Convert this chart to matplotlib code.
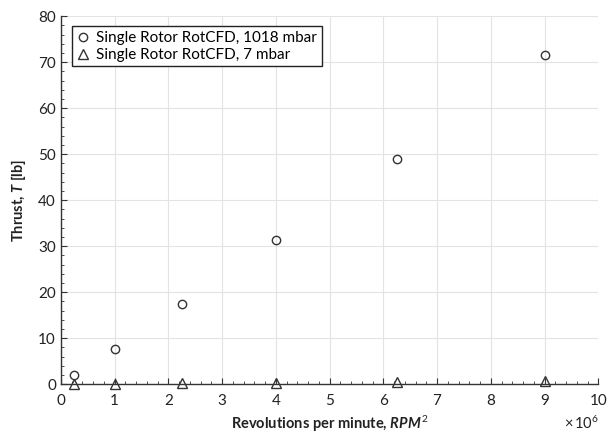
import matplotlib
matplotlib.use("Agg")
import matplotlib.pyplot as plt
from matplotlib.ticker import AutoMinorLocator, MultipleLocator, FuncFormatter

rpm2 = [0.25e6, 1.0e6, 2.25e6, 4.0e6, 6.25e6, 9.0e6]
thrust_1018 = [2.0, 7.7, 17.4, 31.3, 49.0, 71.5]
thrust_7 = [0.03, 0.1, 0.18, 0.3, 0.42, 0.58]
labels = ["Single Rotor RotCFD, 1018 mbar", "Single Rotor RotCFD, 7 mbar"]

plt.rcParams['font.family'] = ['Lato', 'DejaVu Sans']
plt.rcParams['mathtext.fontset'] = 'custom'
plt.rcParams['mathtext.it'] = 'Lato:italic:bold'
plt.rcParams['mathtext.rm'] = 'Lato'

fig = plt.figure(figsize=(6.08, 4.37), dpi=100)
ax = fig.add_axes([0.100, 0.121, 0.884, 0.842])

c = '#333333'
ax.plot(rpm2, thrust_1018, linestyle='none', marker='o', markersize=6,
        markerfacecolor='none', markeredgecolor=c, markeredgewidth=1.0, label=labels[0], clip_on=False)
ax.plot(rpm2, thrust_7, linestyle='none', marker='^', markersize=7,
        markerfacecolor='none', markeredgecolor=c, markeredgewidth=1.0, label=labels[1], clip_on=False)

ax.set_xlim(0, 10e6)
ax.set_ylim(0, 80)
ax.xaxis.set_major_locator(MultipleLocator(1e6))
ax.yaxis.set_major_locator(MultipleLocator(10))
ax.xaxis.set_minor_locator(AutoMinorLocator(5))
ax.yaxis.set_minor_locator(AutoMinorLocator(5))
ax.xaxis.set_major_formatter(FuncFormatter(lambda v, p: f"{v/1e6:g}"))

ax.grid(True, which='major', color='#e3e3e3', linewidth=0.8)
ax.set_axisbelow(True)
for s in ['top', 'right']:
    ax.spines[s].set_visible(False)
for s in ['left', 'bottom']:
    ax.spines[s].set_color(c)
    ax.spines[s].set_linewidth(1.0)
ax.tick_params(which='both', direction='in', colors=c, labelsize=11, labelcolor='#222222')
ax.tick_params(which='major', length=4)
ax.tick_params(which='minor', length=2)
ax.tick_params(axis='x', which='major', pad=7)

ax.set_xlabel(r"Revolutions per minute, $RPM^2$", fontweight='bold', fontsize=10.5, color='#222222', labelpad=4)
ax.set_ylabel(r"Thrust, $T$ [lb]", fontweight='bold', fontsize=10.5, color='#222222', labelpad=7)

fig.text(0.985, 0.012, r"$\times\,\mathrm{10}^{6}$", ha='right', va='bottom', fontsize=10.5, color='#222222')

leg = ax.legend(loc='upper left', bbox_to_anchor=(0.012, 0.985), fancybox=False, framealpha=1,
                edgecolor='#222222', fontsize=11, handlelength=0.8, handletextpad=0.5,
                borderpad=0.3, labelspacing=0.2, borderaxespad=0.3)
leg.get_frame().set_linewidth(1.0)

fig.savefig("out.png", dpi=100)
